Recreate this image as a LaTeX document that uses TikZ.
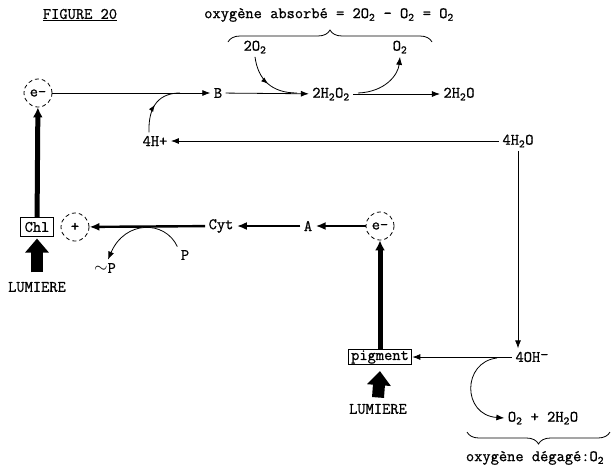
\documentclass[tikz,border=0pt]{standalone}
\usepackage{fontspec}
\setmonofont{Latin Modern Mono}[FakeBold=0.8]
\usetikzlibrary{positioning, arrows.meta, decorations.markings, decorations.pathreplacing}

\begin{document}
\begin{tikzpicture}[
    x=1pt, y=-1pt,
    font=\ttfamily\fontsize{16}{18}\selectfont,
    elec/.style={draw, dash pattern=on 4pt off 3pt, circle, minimum size=28pt, inner sep=0pt, line width=0.8pt},
    pbox/.style={draw, rectangle, line width=1pt, inner xsep=4pt, inner ysep=4pt},
    flow/.style={-{Latex[length=8pt, width=6pt]}, line width=0.8pt},
    heavy/.style={-{Latex[length=10pt, width=8pt]}, line width=2.4pt},
    beam/.style={-{Latex[length=10pt, width=10pt]}, line width=5pt},
    light/.style={-{Triangle[length=14pt, width=23pt]}, line width=12pt},
    midarrow/.style={line width=0.8pt, postaction={decorate}, decoration={markings, mark=at position 0.5 with {\arrow{Latex[length=7pt, width=5pt]}}}},
    bracket/.style={decorate, decoration={brace, amplitude=12pt}, line width=0.8pt}
]
\path[use as bounding box] (0,0) rectangle (611,472);

% Titre
\node (title) at (80,15) {\underline{FIGURE 20}};
\node (absorb) at (329,15) {oxygène absorbé = 2O\textsubscript{2} - O\textsubscript{2} = O\textsubscript{2}};

% Chaine du haut
\node[elec] (e1) at (38,93) {e-};
\node (B) at (218,93) {B};
\node (peroxide) at (331,94) {2H\textsubscript{2}O\textsubscript{2}};
\node (water2) at (459,94) {2H\textsubscript{2}O};
\node (o2in) at (255,47) {2O\textsubscript{2}};
\node (o2out) at (400,47) {O\textsubscript{2}};
\node (hplus) at (155,141) {4H+};
\node (water4) at (518,141) {4H\textsubscript{2}O};

% Chaine du bas
\node[pbox] (chl) at (37,227) {Chl};
\node[elec] (hole) at (75,227) {+};
\node (cyt) at (221,226) {Cyt};
\node (A) at (308,226) {A};
\node[elec] (e2) at (380,226) {e-};
\node[pbox, inner ysep=1pt, inner xsep=3pt] (pigment) at (380,357) {pigment};
\node (ohm) at (532,357) {4OH\raisebox{0.35ex}{-}};
\node (P) at (185,255) {P};
\node (tildeP) at (105,268) {$\sim$P};
\node (lum1) at (37,287) {LUMIERE};
\node (lum2) at (378,409) {LUMIERE};
\node (release) at (543,418) {O\textsubscript{2} + 2H\textsubscript{2}O};
\node (released) at (535,458) {oxygène dégagé:O\textsubscript{2}};

% Fleches
\draw[flow] (e1) -- (B);
\draw[flow] (B) -- (peroxide);
\draw[flow] (peroxide) -- (water2);
\draw[flow] (water4) -- (hplus);
\draw[flow] (water4.south) -- (water4.south |- ohm.north);
\draw[flow] (ohm) -- (pigment);
\draw[beam] (pigment) -- (e2);
\draw[heavy] (e2) -- (A);
\draw[heavy] (A) -- (cyt);
\draw[heavy] (cyt) -- (hole);
\draw[beam] (chl) -- (e1);

% Courbes
\coordinate (join1) at (180,93);
\draw[midarrow] ([xshift=-6pt]hplus.north) .. controls (148,105) and (160,93) .. (join1);
\coordinate (join2) at (297,93);
\draw[midarrow] (o2in.south) .. controls (258,80) and (272,93) .. (join2);
\coordinate (split) at (358,93);
\draw[flow] (split) .. controls (385,92) and (398,75) .. (o2out.south);
\draw[flow] (P.north west) .. controls (165,220) and (125,220) .. ([xshift=3pt]tildeP.north);
\coordinate (split2) at (497,358);
\draw[flow] (split2) .. controls (462,362) and (462,415) .. (release.west);

% Lumiere
\draw[light] ([yshift=6pt]lum1.north) -- ([yshift=-2pt]chl.south);
\draw[light] ([yshift=3pt]lum2.north) -- ([yshift=-6pt]pigment.south);

% Accolades
\draw[bracket] (228,42) -- (432,42);
\draw[bracket] (610,432) -- (467,432);

\end{tikzpicture}
\end{document}
